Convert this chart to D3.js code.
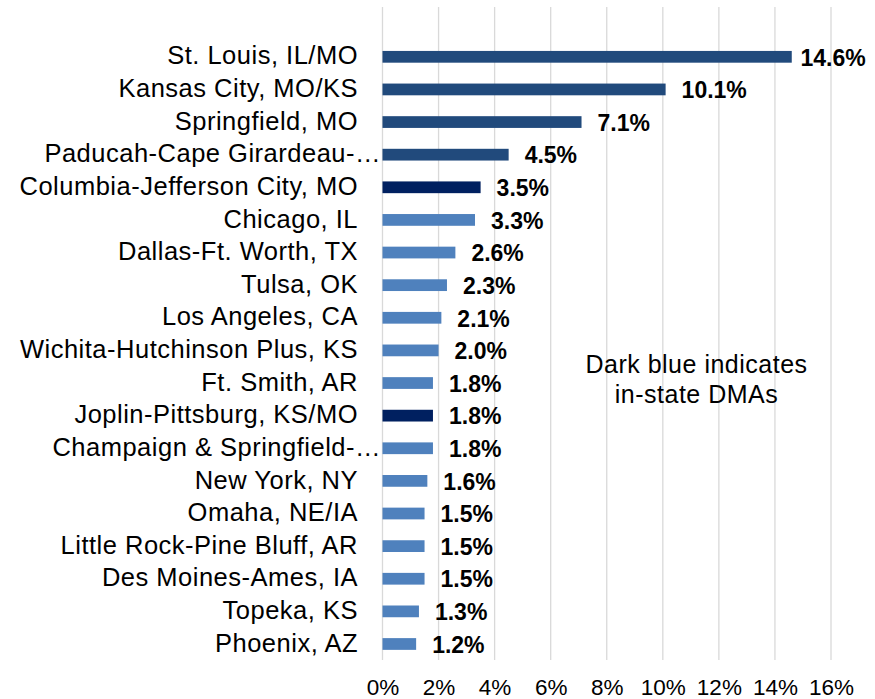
<!DOCTYPE html>
<html>
<head>
<meta charset="utf-8">
<script src="https://cdn.jsdelivr.net/npm/d3@7"></script>
<style>
  body { margin: 0; background: #fff; }
  svg { display: block; font-family: "Liberation Sans", Arial, sans-serif; }
</style>
</head>
<body>
<div id="chart"></div>
<script>
// chart data
const markets = [
    "St. Louis, IL/MO", "Kansas City, MO/KS", "Springfield, MO", "Paducah-Cape Girardeau-…",
    "Columbia-Jefferson City, MO", "Chicago, IL", "Dallas-Ft. Worth, TX", "Tulsa, OK",
    "Los Angeles, CA", "Wichita-Hutchinson Plus, KS", "Ft. Smith, AR", "Joplin-Pittsburg, KS/MO",
    "Champaign & Springfield-…", "New York, NY", "Omaha, NE/IA", "Little Rock-Pine Bluff, AR",
    "Des Moines-Ames, IA", "Topeka, KS", "Phoenix, AZ"
];
const shares = [14.6, 10.1, 7.1, 4.5, 3.5, 3.3, 2.6, 2.3, 2.1, 2.0, 1.8, 1.8, 1.8, 1.6, 1.5, 1.5, 1.5, 1.3, 1.2];
// colour group per market: "mid", "dark" (in-state) or "light"
const groups = ["mid", "mid", "mid", "mid", "dark", "light", "light", "light", "light", "light",
    "light", "dark", "light", "light", "light", "light", "light", "light", "light"];
const xTicks = [0, 2, 4, 6, 8, 10, 12, 14, 16];
const noteLines = ["Dark blue indicates", "in-state DMAs"];

const colors = { mid: "#214A7C", dark: "#002060", light: "#4F81BD" };

const W = 875, H = 699;
const plot = { left: 382.5, right: 831, top: 7, bottom: 660 };

const svg = d3.select("#chart").append("svg")
    .attr("width", W)
    .attr("height", H);

const x = d3.scaleLinear()
    .domain([0, 16])
    .range([plot.left, plot.right]);

const y = d3.scaleBand()
    .domain(markets)
    .range([40.5, 660.3])
    .paddingInner(0.64)
    .paddingOuter(0.32);

// vertical grid
svg.append("g")
    .selectAll("line")
    .data(xTicks)
    .enter()
    .append("line")
    .attr("x1", d => x(d))
    .attr("x2", d => x(d))
    .attr("y1", plot.top)
    .attr("y2", plot.bottom)
    .attr("stroke", "#d9d9d9")
    .attr("stroke-width", 1.3);

// x axis tick labels
const xAxis = svg.append("g")
    .attr("transform", `translate(0, ${plot.bottom})`)
    .call(d3.axisBottom(x).tickValues(xTicks).tickFormat(d => d + "%").tickSize(0).tickPadding(19.5));
xAxis.select(".domain").remove();
xAxis.selectAll("text")
    .attr("fill", "#000")
    .style("font-size", "22.5px")
    .style("font-family", "'Liberation Sans', Arial, sans-serif");

// category labels
const yAxis = svg.append("g")
    .attr("transform", `translate(358, 0)`)
    .call(d3.axisLeft(y).tickSize(0).tickPadding(0));
yAxis.select(".domain").remove();
yAxis.selectAll("text")
    .attr("fill", "#000")
    .attr("dy", "0.3em")
    .style("font-size", "25.5px")
    .style("letter-spacing", "0.5px")
    .style("font-family", "'Liberation Sans', Arial, sans-serif");

// truncated labels: let the ellipsis hang past the label edge
yAxis.selectAll("text")
    .filter(d => d.endsWith("…"))
    .each(function() {
        const t = d3.select(this);
        const full = this.getComputedTextLength();
        t.text(t.text().slice(0, -1));
        const part = this.getComputedTextLength();
        t.text(t.text() + "…");
        t.attr("x", +t.attr("x") + (full - part) - 3);
    });

// bars
svg.append("g")
    .selectAll("rect")
    .data(markets)
    .enter()
    .append("rect")
    .attr("x", x(0))
    .attr("y", d => y(d))
    .attr("width", (d, i) => x(shares[i]) - x(0))
    .attr("height", y.bandwidth())
    .attr("fill", (d, i) => colors[groups[i]]);

// value labels
svg.append("g")
    .selectAll("text")
    .data(markets)
    .enter()
    .append("text")
    .attr("x", (d, i) => Math.min(x(shares[i]) + 16, 800.5))
    .attr("y", d => y(d) + y.bandwidth() / 2)
    .attr("dy", "0.38em")
    .attr("font-weight", "bold")
    .style("font-size", "23px")
    .text((d, i) => shares[i].toFixed(1) + "%");

// note
svg.append("text")
    .attr("x", 696.5)
    .attr("y", 373.3)
    .attr("text-anchor", "middle")
    .style("font-size", "25px")
    .style("letter-spacing", "0.5px")
    .selectAll("tspan")
    .data(noteLines)
    .enter()
    .append("tspan")
    .attr("x", 696.5)
    .attr("dy", (d, i) => i === 0 ? 0 : 30)
    .text(d => d);
</script>
</body>
</html>
